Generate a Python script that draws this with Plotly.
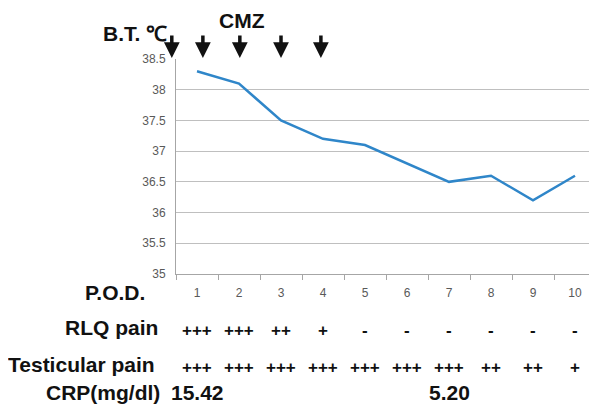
import plotly.graph_objects as go

pod = ["1", "2", "3", "4", "5", "6", "7", "8", "9", "10"]
bt = [38.3, 38.1, 37.5, 37.2, 37.1, 36.8, 36.5, 36.6, 36.2, 36.6]
y_ticks = [35, 35.5, 36, 36.5, 37, 37.5, 38, 38.5]
y_ticktext = ["35", "35.5", "36", "36.5", "37", "37.5", "38", "38.5"]
rlq_pain = ["+++", "+++", "++", "+", "-", "-", "-", "-", "-", "-"]
testicular_pain = ["+++", "+++", "+++", "+++", "+++", "+++", "+++", "++", "++", "+"]
crp_pod = [0, 6]          # category index of each CRP reading
crp_vals = ["15.42", "5.20"]
cmz_pos = [-0.6, 0.14, 1.02, 2.0, 2.95]   # CMZ arrow positions (category index units)

fig = go.Figure()
fig.add_trace(go.Scatter(x=pod, y=bt, mode="lines",
                         line=dict(color="#2F86C9", width=2.5),
                         showlegend=False, hoverinfo="skip"))

font_b = "Liberation Sans, Arial, sans-serif"
n_cat = len(pod)
ann = []
for i, v in enumerate(rlq_pain):
    ann.append(dict(x=i, y=-0.262, xref="x", yref="paper", text="<b>%s</b>" % v,
                    yanchor="middle", showarrow=False,
                    font=dict(size=17, color="#111111", family=font_b)))
for i, v in enumerate(testicular_pain):
    ann.append(dict(x=i, y=-0.433, xref="x", yref="paper", text="<b>%s</b>" % v,
                    yanchor="middle", showarrow=False,
                    font=dict(size=17, color="#111111", family=font_b)))
for i, v in zip(crp_pod, crp_vals):
    ann.append(dict(x=i, y=-0.549, xref="x", yref="paper", text="<b>%s</b>" % v,
                    yanchor="middle", showarrow=False,
                    font=dict(size=21, color="#111111", family=font_b)))

row_labels = [("P.O.D.", -0.088, -0.069), ("RLQ pain", -0.251, -0.038),
              ("Testicular pain", -0.423, -0.045), ("CRP(mg/dl)", -0.549, -0.033)]
for t, yy, xx in row_labels:
    ann.append(dict(x=xx, y=yy, xref="paper", yref="paper", text="<b>%s</b>" % t,
                    xanchor="right", yanchor="middle", showarrow=False,
                    font=dict(size=21, color="#111111", family=font_b)))

# arrows placed in paper units derived from category index (first one lies left of the axis range)
for p in cmz_pos:
    ann.append(dict(x=(p + 0.5) / n_cat, y=1.0, xref="paper", yref="paper",
                    ax=0, ay=-25, text="",
                    showarrow=True, arrowhead=2, arrowsize=0.9, arrowwidth=3.5,
                    arrowcolor="#111111", standoff=1))

ann.append(dict(x=-0.098, y=1.12, xref="paper", yref="paper", text="<b>B.T. ℃</b>",
                xanchor="center", yanchor="middle", showarrow=False,
                font=dict(size=21, color="#111111", family=font_b)))
ann.append(dict(x=0.157, y=1.177, xref="paper", yref="paper", text="<b>CMZ</b>",
                xanchor="center", yanchor="middle", showarrow=False, borderpad=0,
                font=dict(size=21, color="#111111", family=font_b)))

# the page body adds an 8px margin, so the figure is sized to fit the window
fig.update_layout(
    width=589, height=398,
    margin=dict(l=168, r=1, t=51, b=132),
    paper_bgcolor="white", plot_bgcolor="white",
    annotations=ann,
    xaxis=dict(type="category", categoryorder="array", categoryarray=pod,
               range=[-0.5, 9.5], showgrid=False, showline=True,
               linecolor="#A6A6A6", linewidth=1, ticks="outside", ticklen=5,
               tickcolor="#A6A6A6", tickson="boundaries",
               tickfont=dict(size=12, color="#595959", family="Liberation Sans, Arial"),
               ticklabelstandoff=8, fixedrange=True),
    yaxis=dict(range=[35, 38.5], tickvals=y_ticks, ticktext=y_ticktext,
               showgrid=True, gridcolor="#BFBFBF", gridwidth=1,
               showline=True, linecolor="#A6A6A6", linewidth=1,
               zeroline=False, ticks="",
               tickfont=dict(size=12, color="#595959", family="Liberation Sans, Arial"),
               ticklabelstandoff=7, fixedrange=True),
)

fig.write_html("out.html")
